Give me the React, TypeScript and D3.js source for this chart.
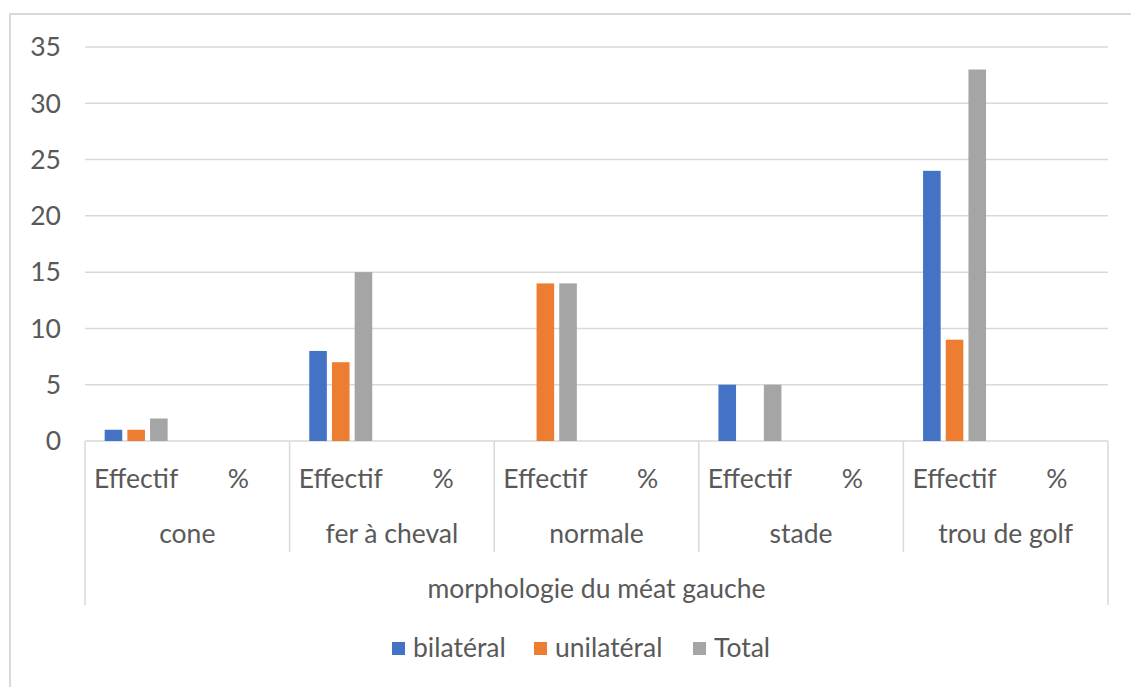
import React from "react";
import * as d3 from "d3";

const groups = ["cone", "fer à cheval", "normale", "stade", "trou de golf"];
const subCategories = ["Effectif", "%"];
const seriesNames = ["bilatéral", "unilatéral", "Total"];
const seriesColors = ["#4472C4", "#ED7D31", "#A5A5A5"];
// values per group for the "Effectif" sub-category; "%" has no values
const bilateral = [1, 8, 0, 5, 24];
const unilateral = [1, 7, 14, 0, 9];
const total = [2, 15, 14, 5, 33];
const yTicks = [0, 5, 10, 15, 20, 25, 30, 35];
const axisTitle = "morphologie du méat gauche";

const W = 1131;
const H = 687;
const FONT = "Lato, 'Open Sans', sans-serif";
const TXT = "#595959";
const GRID = "#D9D9D9";
const FS = 26.5;

export default function App() {
  const left = 85;
  const right = 1108;
  const top = 47;
  const bottom = 441;

  const y = d3.scaleLinear().domain([0, 35]).range([bottom, top]);
  const xGroup = d3.scaleBand<string>().domain(groups).range([left, right]).padding(0);
  const xSub = d3.scaleBand<string>().domain(subCategories).range([0, xGroup.bandwidth()]).padding(0);
  const xSeries = d3
    .scaleBand<string>()
    .domain(seriesNames)
    .range([0, xSub.bandwidth()])
    .paddingInner(0.225)
    .paddingOuter(0.866);

  const seriesData = [bilateral, unilateral, total];

  const legendItems = [
    { name: seriesNames[0], color: seriesColors[0], x: 392 },
    { name: seriesNames[1], color: seriesColors[1], x: 534 },
    { name: seriesNames[2], color: seriesColors[2], x: 693 },
  ];

  return (
    <svg
      width={W}
      height={H}
      style={{ position: "absolute", left: 0, top: 0, background: "#fff" }}
      fontFamily={FONT}
    >
      <rect x={0} y={0} width={W} height={H} fill="#fff" />
      {/* outer chart border (right/bottom cropped) */}
      <rect x={10} y={14} width={W + 20} height={H + 20} fill="none" stroke={GRID} strokeWidth={2} />

      {/* gridlines */}
      {yTicks.map((t) => (
        <line key={"g" + t} x1={left} x2={right} y1={y(t)} y2={y(t)} stroke={GRID} strokeWidth={1.5} />
      ))}
      {/* y tick labels */}
      {yTicks.map((t) => (
        <text
          key={"t" + t}
          x={61}
          y={y(t)}
          dy="0.35em"
          textAnchor="end"
          fontSize={FS}
          fill={TXT}
        >
          {t}
        </text>
      ))}

      {/* bars */}
      {groups.map((g, gi) =>
        seriesNames.map((s, si) => {
          const v = seriesData[si][gi];
          if (!v) return null;
          const x = (xGroup(g) as number) + (xSub("Effectif") as number) + (xSeries(s) as number);
          return (
            <rect
              key={g + s}
              x={x}
              y={y(v)}
              width={xSeries.bandwidth()}
              height={y(0) - y(v)}
              fill={seriesColors[si]}
            />
          );
        })
      )}

      {/* category separators */}
      {groups.map((g, gi) => {
        const x = xGroup(g) as number;
        return (
          <line
            key={"sep" + g}
            x1={x}
            x2={x}
            y1={bottom}
            y2={gi === 0 ? 605 : 552}
            stroke={GRID}
            strokeWidth={1.5}
          />
        );
      })}
      <line x1={right} x2={right} y1={bottom} y2={605} stroke={GRID} strokeWidth={1.5} />

      {/* sub-category labels */}
      {groups.map((g) =>
        subCategories.map((sc) => (
          <text
            key={g + sc}
            x={(xGroup(g) as number) + (xSub(sc) as number) + xSub.bandwidth() / 2}
            y={488}
            textAnchor="middle"
            fontSize={FS}
            fill={TXT}
          >
            {sc}
          </text>
        ))
      )}
      {/* group labels */}
      {groups.map((g) => (
        <text
          key={"gl" + g}
          x={(xGroup(g) as number) + xGroup.bandwidth() / 2}
          y={543}
          textAnchor="middle"
          fontSize={FS}
          fill={TXT}
        >
          {g}
        </text>
      ))}
      {/* axis title */}
      <text x={(left + right) / 2} y={598} textAnchor="middle" fontSize={FS} fill={TXT}>
        {axisTitle}
      </text>

      {/* legend */}
      {legendItems.map((it) => (
        <g key={"lg" + it.name}>
          <rect x={it.x} y={642} width={13} height={13} fill={it.color} />
          <text x={it.x + 21} y={657} fontSize={FS} fill={TXT}>
            {it.name}
          </text>
        </g>
      ))}
    </svg>
  );
}
